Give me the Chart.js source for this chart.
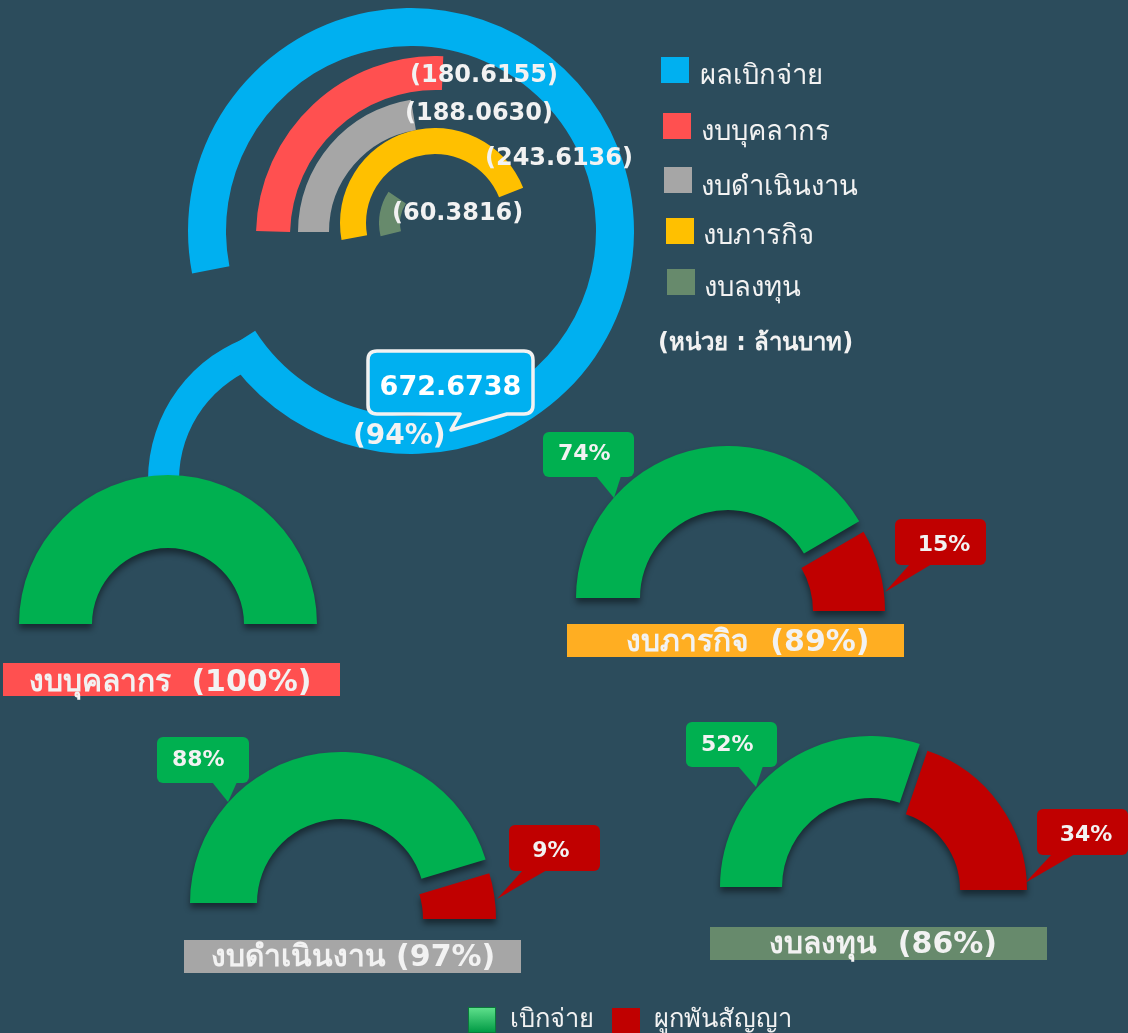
<!DOCTYPE html>
<html lang="th">
<head>
<meta charset="utf-8">
<title>ผลการเบิกจ่ายงบประมาณ</title>
<script src="https://cdn.jsdelivr.net/npm/chart.js@4.4.1/dist/chart.umd.min.js"></script>
<style>
  html, body { margin: 0; padding: 0; background: #2c4c5c; width: 1128px; height: 1033px; overflow: hidden; }
  #stage { position: relative; width: 1128px; height: 1033px; font-family: "DejaVu Sans", "Noto Sans", sans-serif; }
  #stage canvas, #stage svg { position: absolute; left: 0; top: 0; }
  .gauge { filter: drop-shadow(0 5px 3px rgba(0, 0, 0, 0.45)); }
</style>
</head>
<body>
<div id="stage">
  <svg id="under" width="1128" height="1033"></svg>
  <svg id="over" width="1128" height="1033"></svg>
</div>
<script>
// ---- data ----
const totalPaid = 672.6738;
const totalPercent = 94;
const budgetNames = ['งบบุคลากร', 'งบดำเนินงาน', 'งบภารกิจ', 'งบลงทุน'];
const paidAmounts = [180.6155, 188.0630, 243.6136, 60.3816];
const arcSweepPct = [25.2, 22.5, 46.8, 13.2]; // share of a full turn each inner arc covers
const budgetPercents = [100, 97, 89, 86];
const disbursedPct = [100, 88, 74, 52];
const committedPct = [0, 9, 15, 34];
const legendTitle = 'ผลเบิกจ่าย';
const unitNote = '(หน่วย : ล้านบาท)';
const gaugeLegend = ['เบิกจ่าย', 'ผูกพันสัญญา'];

// ---- styles ----
const BLUE = '#00b0f0';
const budgetColors = ['#ff5050', '#a6a6a6', '#ffc000', '#678a6c'];
const titleColors = ['#ff5050', '#a6a6a6', '#ffae22', '#678a6c'];
const GREEN = '#00b050';
const RED = '#c00000';
const TEXT = '#f2f2f2';
const NONE = 'rgba(0,0,0,0)';

const stage = document.getElementById('stage');
const under = document.getElementById('under');
const over = document.getElementById('over');
const NS = 'http://www.w3.org/2000/svg';

const el = (tag, attrs, parent, text) => {
  const node = document.createElementNS(NS, tag);
  Object.entries(attrs).forEach(([k, v]) => node.setAttribute(k, v));
  if (text !== undefined) node.textContent = text;
  parent.appendChild(node);
  return node;
};

// one doughnut per canvas, canvas sized to the ring so radius = r
const arcChart = (cx, cy, r, cutout, rotation, data, colors, cls) => {
  const canvas = document.createElement('canvas');
  canvas.width = r * 2;
  canvas.height = r * 2;
  canvas.style.left = `${cx - r}px`;
  canvas.style.top = `${cy - r}px`;
  if (cls) canvas.className = cls;
  stage.insertBefore(canvas, over);
  return new Chart(canvas.getContext('2d'), {
    type: 'doughnut',
    data: {
      datasets: [{ data, backgroundColor: colors, borderWidth: 0, hoverOffset: 0 }],
    },
    options: {
      responsive: false,
      animation: false,
      events: [],
      cutout,
      rotation,
      plugins: { legend: { display: false }, tooltip: { enabled: false } },
    },
  });
};

// connector from the big ring down to the first gauge (decoration)
(() => {
  const cx = 300, cy = 480, R = 152, r = 121;
  const a0 = Math.PI, a1 = 253 * Math.PI / 180;
  const p = (rad, a) => `${cx + rad * Math.cos(a)} ${cy + rad * Math.sin(a)}`;
  el('path', {
    d: `M ${p(R, a0)} A ${R} ${R} 0 0 1 ${p(R, a1)} L ${p(r, a1)} A ${r} ${r} 0 0 0 ${p(r, a0)} Z`,
    fill: BLUE,
  }, under);
})();

// big ring: total paid
arcChart(411, 231, 223, 185, 259, [totalPercent, 100 - totalPercent], [BLUE, NONE]);

// inner arcs per budget
const innerArcs = [
  { cx: 436, cy: 236, r: 180, cut: 146, rot: 271.6 },
  { cx: 432, cy: 232, r: 134, cut: 103, rot: 270 },
  { cx: 435, cy: 223, r: 95, cut: 69, rot: 259.7 },
  { cx: 435, cy: 223, r: 56, cut: 35, rot: 256.4 },
];
innerArcs.forEach((a, i) => {
  arcChart(a.cx, a.cy, a.r, a.cut, a.rot, [arcSweepPct[i], 100 - arcSweepPct[i]], [budgetColors[i], NONE]);
});

// gauges (half doughnuts: green = disbursed, red = committed, bottom half hidden)
const gauges = [
  { g: [168, 624, 149, 76], r: [168, 624, 149, 76], box: [3, 663], tx: 170, ty: 691, gap: '\u00a0\u00a0' },
  { g: [341, 903, 151, 84], r: [337, 919, 159, 86], box: [184, 940], tx: 353, ty: 966, gap: ' ' },
  { g: [728, 598, 152, 88], r: [728, 611, 157, 85], box: [567, 624], tx: 748, ty: 651, gap: '\u00a0\u00a0' },
  { g: [871, 887, 151, 89], r: [880, 890, 147, 80], box: [710, 927], tx: 883, ty: 953, gap: '\u00a0\u00a0' },
];
gauges.forEach((gz, i) => {
  const data = [disbursedPct[i], committedPct[i], disbursedPct[i] + committedPct[i]];
  if (committedPct[i] > 0) {
    arcChart(gz.r[0], gz.r[1], gz.r[2], gz.r[3], -90, data, [NONE, RED, NONE], 'gauge');
  }
  arcChart(gz.g[0], gz.g[1], gz.g[2], gz.g[3], -90, data, [GREEN, NONE, NONE], 'gauge');
});

// ---- overlay: labels, callouts, legend ----
const valuePos = [[410, 82], [405, 120], [485, 165], [392, 220]];
paidAmounts.forEach((v, i) => {
  el('text', { x: valuePos[i][0], y: valuePos[i][1], fill: TEXT, 'font-size': 24, 'font-weight': 'bold' },
    over, `(${v.toFixed(4)})`);
});

// total callout
el('path', {
  d: 'M 377 351 H 524 Q 533 351 533 360 V 405 Q 533 414 524 414 H 507 L 451 430 L 460 414 H 377 Q 368 414 368 405 V 360 Q 368 351 377 351 Z',
  fill: BLUE, stroke: '#f2f2f2', 'stroke-width': 3.5, 'stroke-linejoin': 'round',
}, over);
el('text', { x: 450.5, y: 395, fill: '#ffffff', 'font-size': 27, 'font-weight': 'bold', 'text-anchor': 'middle' },
  over, totalPaid.toFixed(4));
el('text', { x: 353, y: 444, fill: TEXT, 'font-size': 28, 'font-weight': 'bold' }, over, `(${totalPercent}%)`);

// legend
const legendLayout = [
  [661, 57, 700, 84], [663, 113, 701, 140], [664, 167, 701, 195], [666, 218, 703, 244], [667, 269, 704, 296],
];
[legendTitle, ...budgetNames].forEach((name, i) => {
  const [sx, sy, tx, ty] = legendLayout[i];
  el('rect', { x: sx, y: sy, width: 28, height: 26, fill: i === 0 ? BLUE : budgetColors[i - 1] }, over);
  el('text', { x: tx, y: ty, fill: TEXT, 'font-size': 27.5 }, over, name);
});
el('text', { x: 658, y: 350, fill: TEXT, 'font-size': 24, 'font-weight': 'bold' }, over, unitNote);

// gauge titles
gauges.forEach((gz, i) => {
  el('rect', { x: gz.box[0], y: gz.box[1], width: 337, height: 33, fill: titleColors[i] }, over);
  el('text', { x: gz.tx, y: gz.ty, fill: TEXT, 'font-size': 30, 'font-weight': 'bold', 'text-anchor': 'middle' },
    over, `${budgetNames[i]}${gz.gap}(${budgetPercents[i]}%)`);
});

// gauge callouts
const callouts = [
  null,
  { g: [157, 737, 92, 46, 172, 766], gt: [[212, 782], [237, 782], [228, 802]],
    r: [509, 825, 91, 46, 551, 857], rt: [[523, 870], [547, 870], [497, 899]] },
  { g: [543, 432, 91, 45, 558, 460], gt: [[596, 476], [621, 476], [614, 498]],
    r: [895, 519, 91, 46, 944, 551], rt: [[910, 564], [932, 564], [885, 592]] },
  { g: [686, 722, 91, 45, 701, 751], gt: [[738, 766], [763, 766], [756, 787]],
    r: [1037, 809, 91, 46, 1086, 841], rt: [[1052, 854], [1075, 854], [1025, 883]] },
];
const bubble = (b, tail, color, label, anchor) => {
  el('polygon', { points: tail.map((p) => p.join(',')).join(' '), fill: color }, over);
  el('rect', { x: b[0], y: b[1], width: b[2], height: b[3], rx: 6, fill: color }, over);
  el('text', { x: b[4], y: b[5], fill: TEXT, 'font-size': 22, 'font-weight': 'bold', 'text-anchor': anchor }, over, label);
};
callouts.forEach((c, i) => {
  if (!c) return;
  bubble(c.g, c.gt, GREEN, `${disbursedPct[i]}%`, 'start');
  bubble(c.r, c.rt, RED, `${committedPct[i]}%`, 'middle');
});

// bottom legend
const defs = el('defs', {}, over);
const grad = el('linearGradient', { id: 'gbev', x1: 0, y1: 0, x2: 0, y2: 1 }, defs);
el('stop', { offset: '0', 'stop-color': '#5fe08c' }, grad);
el('stop', { offset: '1', 'stop-color': '#009a44' }, grad);
el('rect', { x: 468.5, y: 1007.5, width: 27, height: 25, fill: 'url(#gbev)', stroke: '#0a7a3a', 'stroke-width': 1 }, over);
el('text', { x: 510, y: 1027, fill: TEXT, 'font-size': 25.5 }, over, gaugeLegend[0]);
el('rect', { x: 612, y: 1008, width: 28, height: 25, fill: RED }, over);
el('text', { x: 654, y: 1027, fill: TEXT, 'font-size': 25.5 }, over, gaugeLegend[1]);
</script>
</body>
</html>
